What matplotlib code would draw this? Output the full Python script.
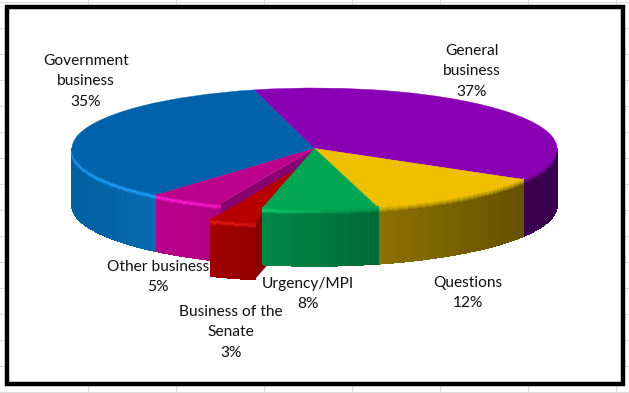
import numpy as np
import matplotlib
matplotlib.use('Agg')
import matplotlib.pyplot as plt
from matplotlib.collections import PolyCollection
from matplotlib.colors import to_rgb
from matplotlib.patches import Polygon, Rectangle

plt.rcParams['font.family'] = ['Lato', 'DejaVu Sans']

names = ['General\nbusiness', 'Questions', 'Urgency/MPI', 'Business of the\nSenate', 'Other business', 'Government\nbusiness']
values = [37.5, 12.3, 7.6, 3.0, 4.8, 34.8]
percent_labels = ['37%', '12%', '8%', '3%', '5%', '35%']

# styles, same order as the values
top_colors = ['#8a00b4', '#efbf00', '#00a651', '#b70000', '#bc008c', '#0062ab']
wall_left = ['#3e0052', '#8c7100', '#00884a', '#a00000', '#b8008a', '#005f9f']
wall_right = ['#36004a', '#665200', '#006a34', '#960000', '#b00082', '#0a6bb2']
side_colors = [None, None, None, '#860000', '#8a0070', None]
draw_order = [5, 0, 1, 4, 3, 2]
label_xy = [(472, 50), (468, 282), (308, 283), (231, 311), (158, 266), (86, 60)]

# pie position on the canvas, pixels
W, H = 629, 393
cx, cy, rx, ry = 314.5, 148.5, 242.5, 60.5
depth = 57 / ry
senate_shift = (-8 / rx, -15 / ry)


def mix(a, b, t):
    return tuple(np.array(a) * (1 - t) + np.array(b) * t)


fig = plt.figure(figsize=(W / 100, H / 100), dpi=100)

# sheet gridlines and chart frame
bg = fig.add_axes([0, 0, 1, 1], zorder=1)
bg.set_xlim(0, W)
bg.set_ylim(H, 0)
bg.axis('off')
for x in range(88, W, 88):
    bg.axvline(x, color='#dcdcdc', lw=0.8)
for y in range(2, H + 1, 26):
    bg.axhline(y, color='#dcdcdc', lw=0.8)
bg.add_patch(Rectangle((6.5, 7), 616, 377, fc='white', ec='black', lw=3.2, zorder=3))

ax = fig.add_axes([0, 0, 1, 1], zorder=2)
ax.patch.set_alpha(0)
wedges, _ = ax.pie(values, startangle=104.3, counterclock=False, radius=1)
ax.set_aspect('auto')
ax.set_xlim(-cx / rx, (W - cx) / rx)
ax.set_ylim((cy - H) / ry, cy / ry)
ax.axis('off')

wedges[3].set_center(senate_shift)

rows = np.array([0, 1, 2, 3, 4, 5, 6, 7, 8, 57]) / ry

z = 2
for i in draw_order:
    w = wedges[i]
    c0, c1 = w.center
    top = to_rgb(top_colors[i])
    left = to_rgb(wall_left[i])
    right = to_rgb(wall_right[i])
    bright = tuple(np.clip(np.array(top) * 1.35 + 0.12, 0, 1))

    # radial side that shows on the pulled-out slice and next to it
    if side_colors[i]:
        a = np.radians(w.theta2)
        ex, ey = c0 + np.cos(a), c1 + np.sin(a)
        ax.add_patch(Polygon([(c0, c1), (ex, ey), (ex, ey - depth), (c0, c1 - depth)],
                             fc=side_colors[i], ec='none', zorder=z))
        z += 1

    # outer wall, split in small quads for shading
    phi = np.radians(np.arange(w.theta1, w.theta2 + 0.25, 0.5))
    phi = phi[np.sin(phi) <= 0.005]
    if len(phi) > 1:
        xs = c0 + np.cos(phi)
        ys = c1 + np.minimum(np.sin(phi), 0)
        quads, colors = [], []
        for k in range(len(phi) - 1):
            t = (xs[k] - xs.min()) / max(xs.max() - xs.min(), 1e-6)
            base = mix(left, right, t)
            glow = float(np.clip((0.1 - np.cos(phi[k])) / 0.6, 0, 1)) * 0.8 + 0.1
            for r in range(len(rows) - 1):
                frac = min(rows[r] * ry / 6, 1)
                col = mix(top, base, frac)
                bump = max(0, 1 - abs(rows[r] * ry - 3) / 3)
                col = mix(col, bright, glow * bump)
                quads.append([(xs[k], ys[k] - rows[r]), (xs[k + 1], ys[k + 1] - rows[r]),
                              (xs[k + 1], ys[k + 1] - rows[r + 1]), (xs[k], ys[k] - rows[r + 1])])
                colors.append(col)
        ax.add_collection(PolyCollection(quads, facecolors=colors, edgecolors=colors,
                                         linewidths=0.4, antialiaseds=False, zorder=z))
        z += 1

    w.set(facecolor=top, edgecolor=top, linewidth=0.3, zorder=z)
    z += 1

# labels above the pie
fg = fig.add_axes([0, 0, 1, 1], zorder=3)
fg.set_xlim(0, W)
fg.set_ylim(H, 0)
fg.axis('off')
fg.patch.set_alpha(0)
for name, pct, (lx, ly) in zip(names, percent_labels, label_xy):
    fg.text(lx, ly - 6, f'{name}\n{pct}', ha='center', va='top', fontsize=11.2,
            linespacing=1.58, color='#111111')

fig.savefig('out.png', dpi=100)
